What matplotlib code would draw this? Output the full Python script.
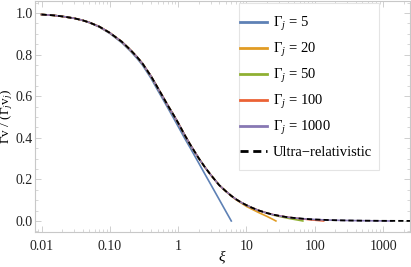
import matplotlib
matplotlib.use("Agg")
import matplotlib.pyplot as plt
from matplotlib.ticker import FixedLocator, LogLocator, NullFormatter
from matplotlib.patches import Rectangle

plt.rcParams['font.family'] = ['Liberation Serif', 'DejaVu Serif']
plt.rcParams['mathtext.fontset'] = 'custom'
plt.rcParams['mathtext.rm'] = 'Liberation Serif'
plt.rcParams['mathtext.it'] = 'Liberation Serif:italic'

# ---- data ----
# ultra-relativistic curve
xi_ur = [0.01, 0.015, 0.02, 0.03, 0.04, 0.05, 0.07, 0.1, 0.15, 0.2, 0.25, 0.3, 0.4, 0.5, 0.6, 0.7, 0.85,
         1, 1.25, 1.5, 2, 2.5, 3, 4, 5, 6, 7, 8.5, 10, 12, 15, 20, 25, 30, 40, 50, 70, 100, 150, 200,
         300, 500, 1000, 2500]
y_ur = [0.993, 0.989, 0.984, 0.975, 0.965, 0.955, 0.935, 0.905, 0.862, 0.823, 0.789, 0.758, 0.697, 0.642,
        0.597, 0.558, 0.512, 0.472, 0.413, 0.368, 0.302, 0.256, 0.222, 0.172, 0.143, 0.121, 0.105, 0.088,
        0.076, 0.064, 0.051, 0.038, 0.030, 0.025, 0.018, 0.0145, 0.0103, 0.0072, 0.0048, 0.0036, 0.0024,
        0.0014, 0.0007, 0.0003]

# Gamma_j = 5 (departs early)
xi_g5 = [0.01, 0.015, 0.02, 0.03, 0.04, 0.05, 0.07, 0.1, 0.15, 0.2, 0.25, 0.3, 0.4, 0.5, 0.6, 0.7, 0.85,
         1, 1.25, 1.5, 2, 2.5, 3, 4, 5, 6]
y_g5 = [0.993, 0.989, 0.984, 0.975, 0.965, 0.954, 0.933, 0.902, 0.857, 0.817, 0.782, 0.75, 0.687, 0.63,
        0.585, 0.546, 0.497, 0.455, 0.397, 0.352, 0.279, 0.222, 0.176, 0.103, 0.046, 0.0]

# Gamma_j = 20, 50, 100, 1000: follow the ultra-relativistic curve, then these tails
xi_g20_tail = [6, 7, 8.5, 10, 12, 15, 20, 25, 27]
y_g20_tail = [0.120, 0.103, 0.085, 0.070, 0.057, 0.041, 0.022, 0.006, 0.0]
xi_g50_tail = [25, 30, 40, 50, 60, 67]
y_g50_tail = [0.028, 0.022, 0.0135, 0.0076, 0.003, 0.0]
xi_g100_tail = [60, 70, 80, 100, 120, 135]
y_g100_tail = [0.0115, 0.0092, 0.0068, 0.0038, 0.0015, 0.0]
xi_g1000_tail = [700, 1000, 1350]
y_g1000_tail = [0.0009, 0.0004, 0.0]

labels = [r'$\Gamma_j$ = 5', r'$\Gamma_j$ = 20', r'$\Gamma_j$ = 50', r'$\Gamma_j$ = 100',
          r'$\Gamma_j$ = 1000', 'Ultra\u2212relativistic']
x_ticks = [0.01, 0.1, 1, 10, 100, 1000]
x_ticklabels = ['0.01', '0.10', '1', '10', '100', '1000']
y_ticks = [0.0, 0.2, 0.4, 0.6, 0.8, 1.0]
y_ticklabels = ['0.0', '0.2', '0.4', '0.6', '0.8', '1.0']

colors = ['#5E81B5', '#E19C24', '#8FB032', '#EB6235', '#8778B3']


def with_tail(xt, yt):
    xs = [x for x in xi_ur if x < xt[0]] + list(xt)
    ys = [y for x, y in zip(xi_ur, y_ur) if x < xt[0]] + list(yt)
    return xs, ys


fig = plt.figure(figsize=(4.11, 2.67), dpi=100)
ax = fig.add_axes([35/411, 1 - 232/267, 375/411, 231/267])

series = [(xi_g5, y_g5),
          with_tail(xi_g20_tail, y_g20_tail),
          with_tail(xi_g50_tail, y_g50_tail),
          with_tail(xi_g100_tail, y_g100_tail),
          with_tail(xi_g1000_tail, y_g1000_tail)]
for (xs, ys), c, lab in zip(series, colors, labels[:5]):
    ax.plot(xs, ys, color=c, lw=1.2, label=lab, solid_joinstyle='round')
ax.plot(xi_ur, y_ur, color='black', lw=1.3, ls=(0, (2.9, 1.7)), label=labels[5])

ax.set_xscale('log')
ax.set_xlim(0.00803, 2480)
ax.set_ylim(-0.053, 1.058)
ax.xaxis.set_major_locator(FixedLocator(x_ticks))
ax.set_xticklabels(x_ticklabels)
ax.xaxis.set_minor_locator(LogLocator(base=10, subs=range(2, 10), numticks=20))
ax.xaxis.set_minor_formatter(NullFormatter())
ax.set_yticks(y_ticks)
ax.set_yticklabels(y_ticklabels)
ax.set_yticks([i * 0.05 for i in range(-1, 22)], minor=True)

for sp in ax.spines.values():
    sp.set_color('#c8c8c8')
    sp.set_linewidth(0.8)
ax.tick_params(which='both', direction='in', top=True, right=True, color='#c8c8c8',
               labelsize=10, labelcolor='#222222')
ax.tick_params(axis='x', pad=5.5)
ax.tick_params(axis='y', pad=1.5)
ax.tick_params(which='major', length=4, width=0.6)
ax.tick_params(which='minor', length=2, width=0.5)

ax.set_xlabel(r'$\xi$', fontsize=11)
ax.xaxis.set_label_coords(0.5, -0.072)
ax.set_ylabel(r'$\Gamma$v / ($\Gamma_j$v$_j$)', fontsize=9.5)
ax.yaxis.set_label_coords(-0.052, 0.5)

# legend frame
ax.add_patch(Rectangle((0.543, 0.268), 0.374, 0.723, transform=ax.transAxes, facecolor='white',
                       edgecolor='#e4e4e4', lw=0.8, zorder=4))
leg = ax.legend(loc='upper left', bbox_to_anchor=(0.547, 0.938), fontsize=10.5, frameon=False,
                handlelength=1.85, labelspacing=0.55, borderpad=0, handletextpad=0.41, borderaxespad=0)
leg.set_zorder(5)
for line in leg.get_lines():
    line.set_linewidth(2.0)

fig.savefig('out.png', dpi=100)
